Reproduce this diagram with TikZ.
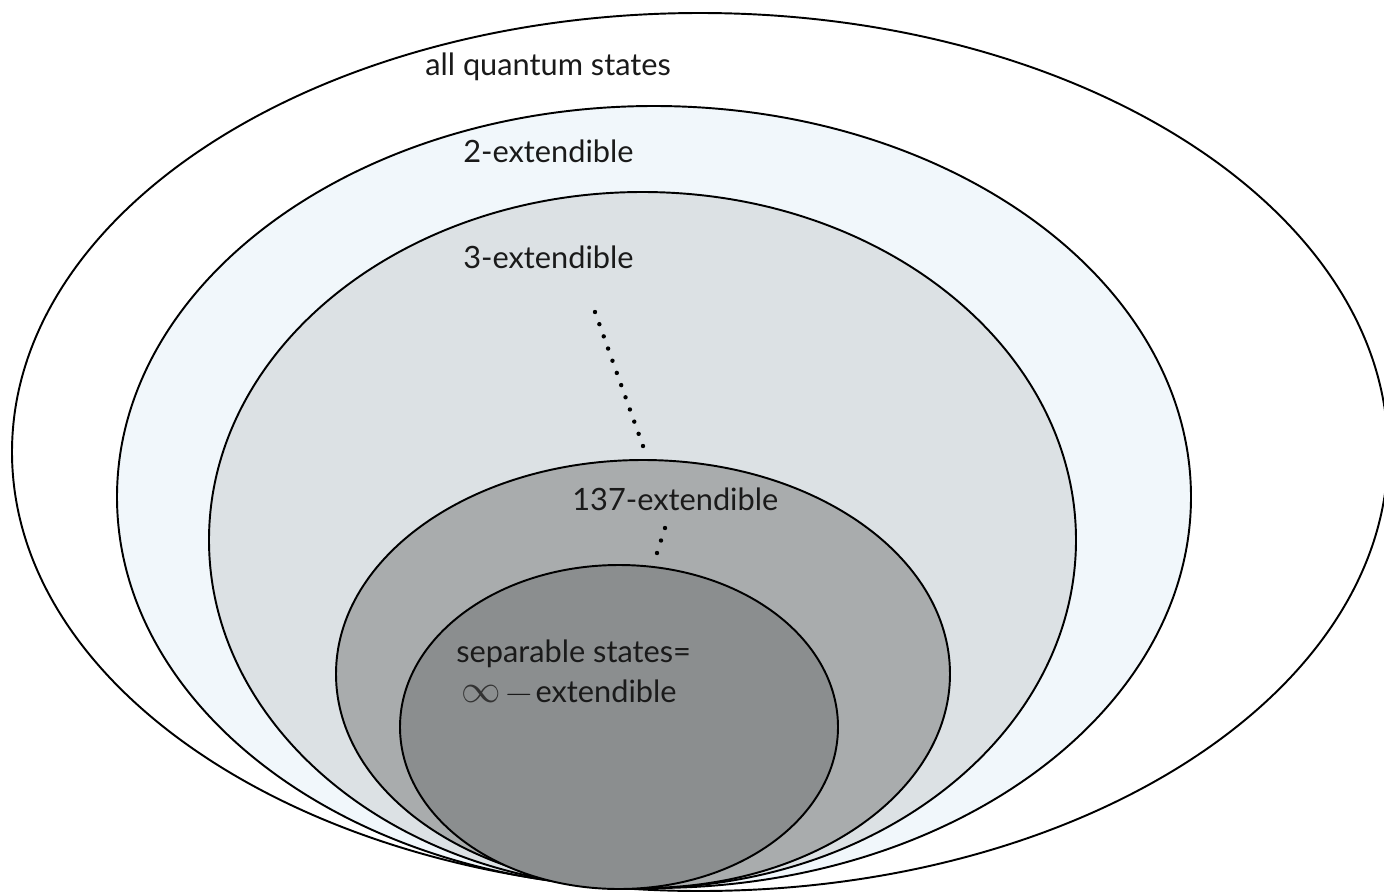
\documentclass[tikz,border=0pt]{standalone}
\usepackage{fontspec}
\usepackage{graphicx}
\setmainfont{Lato}
\usetikzlibrary{calc}
\definecolor{twoext}{HTML}{F1F7FB}
\definecolor{threeext}{HTML}{DCE1E4}
\definecolor{bigext}{HTML}{A9ACAD}
\definecolor{sepcol}{HTML}{8B8E8F}
\definecolor{txt}{HTML}{1A1A1A}
\definecolor{inftxt}{HTML}{333333}
\begin{document}
\begin{tikzpicture}[x=0.02cm,y=-0.02cm,
  setline/.style={draw=black, line width=1.1pt},
  lab/.style={anchor=base west, inner sep=0pt, text=txt, font=\fontsize{17.5}{20}\selectfont},
  dotfill/.style={fill=black}]
\useasboundingbox (0,0) rectangle (1384,893);
\path[setline, fill=white] (700,452) ellipse [x radius=688, y radius=439];
\path[setline, fill=twoext] (654,497) ellipse [x radius=537, y radius=391];
\path[setline, fill=threeext] (642.5,540) ellipse [x radius=433.5, y radius=348];
\path[setline, fill=bigext] (643,674) ellipse [x radius=307, y radius=214];
\path[setline, fill=sepcol] (619,727) ellipse [x radius=219, y radius=162];
\node[lab] (all) at (425,75) {all quantum states};
\node[lab] (two) at (463,162) {2-extendible};
\node[lab] (three) at (463,268) {3-extendible};
\node[lab] (big) at (572,510) {137-extendible};
\node[lab] (sep) at (456,662) {separable states=};
\node[lab] (inf) at (461,702) {\textcolor{inftxt}{\scalebox{1.3}{$\infty$}}\kern2pt\scalebox{1.25}[1]{$-$}\kern1pt extendible};
\coordinate (d1) at (595,312);
\coordinate (d2) at (643,446);
\coordinate (e1) at (665,528);
\coordinate (e2) at (657,553);
\foreach \i in {0,...,11} \fill[dotfill] ($(d1)!\i/11!(d2)$) circle (2.2);
\foreach \i in {0,1,2} \fill[dotfill] ($(e1)!\i/2!(e2)$) circle (2.2);
\end{tikzpicture}
\end{document}
